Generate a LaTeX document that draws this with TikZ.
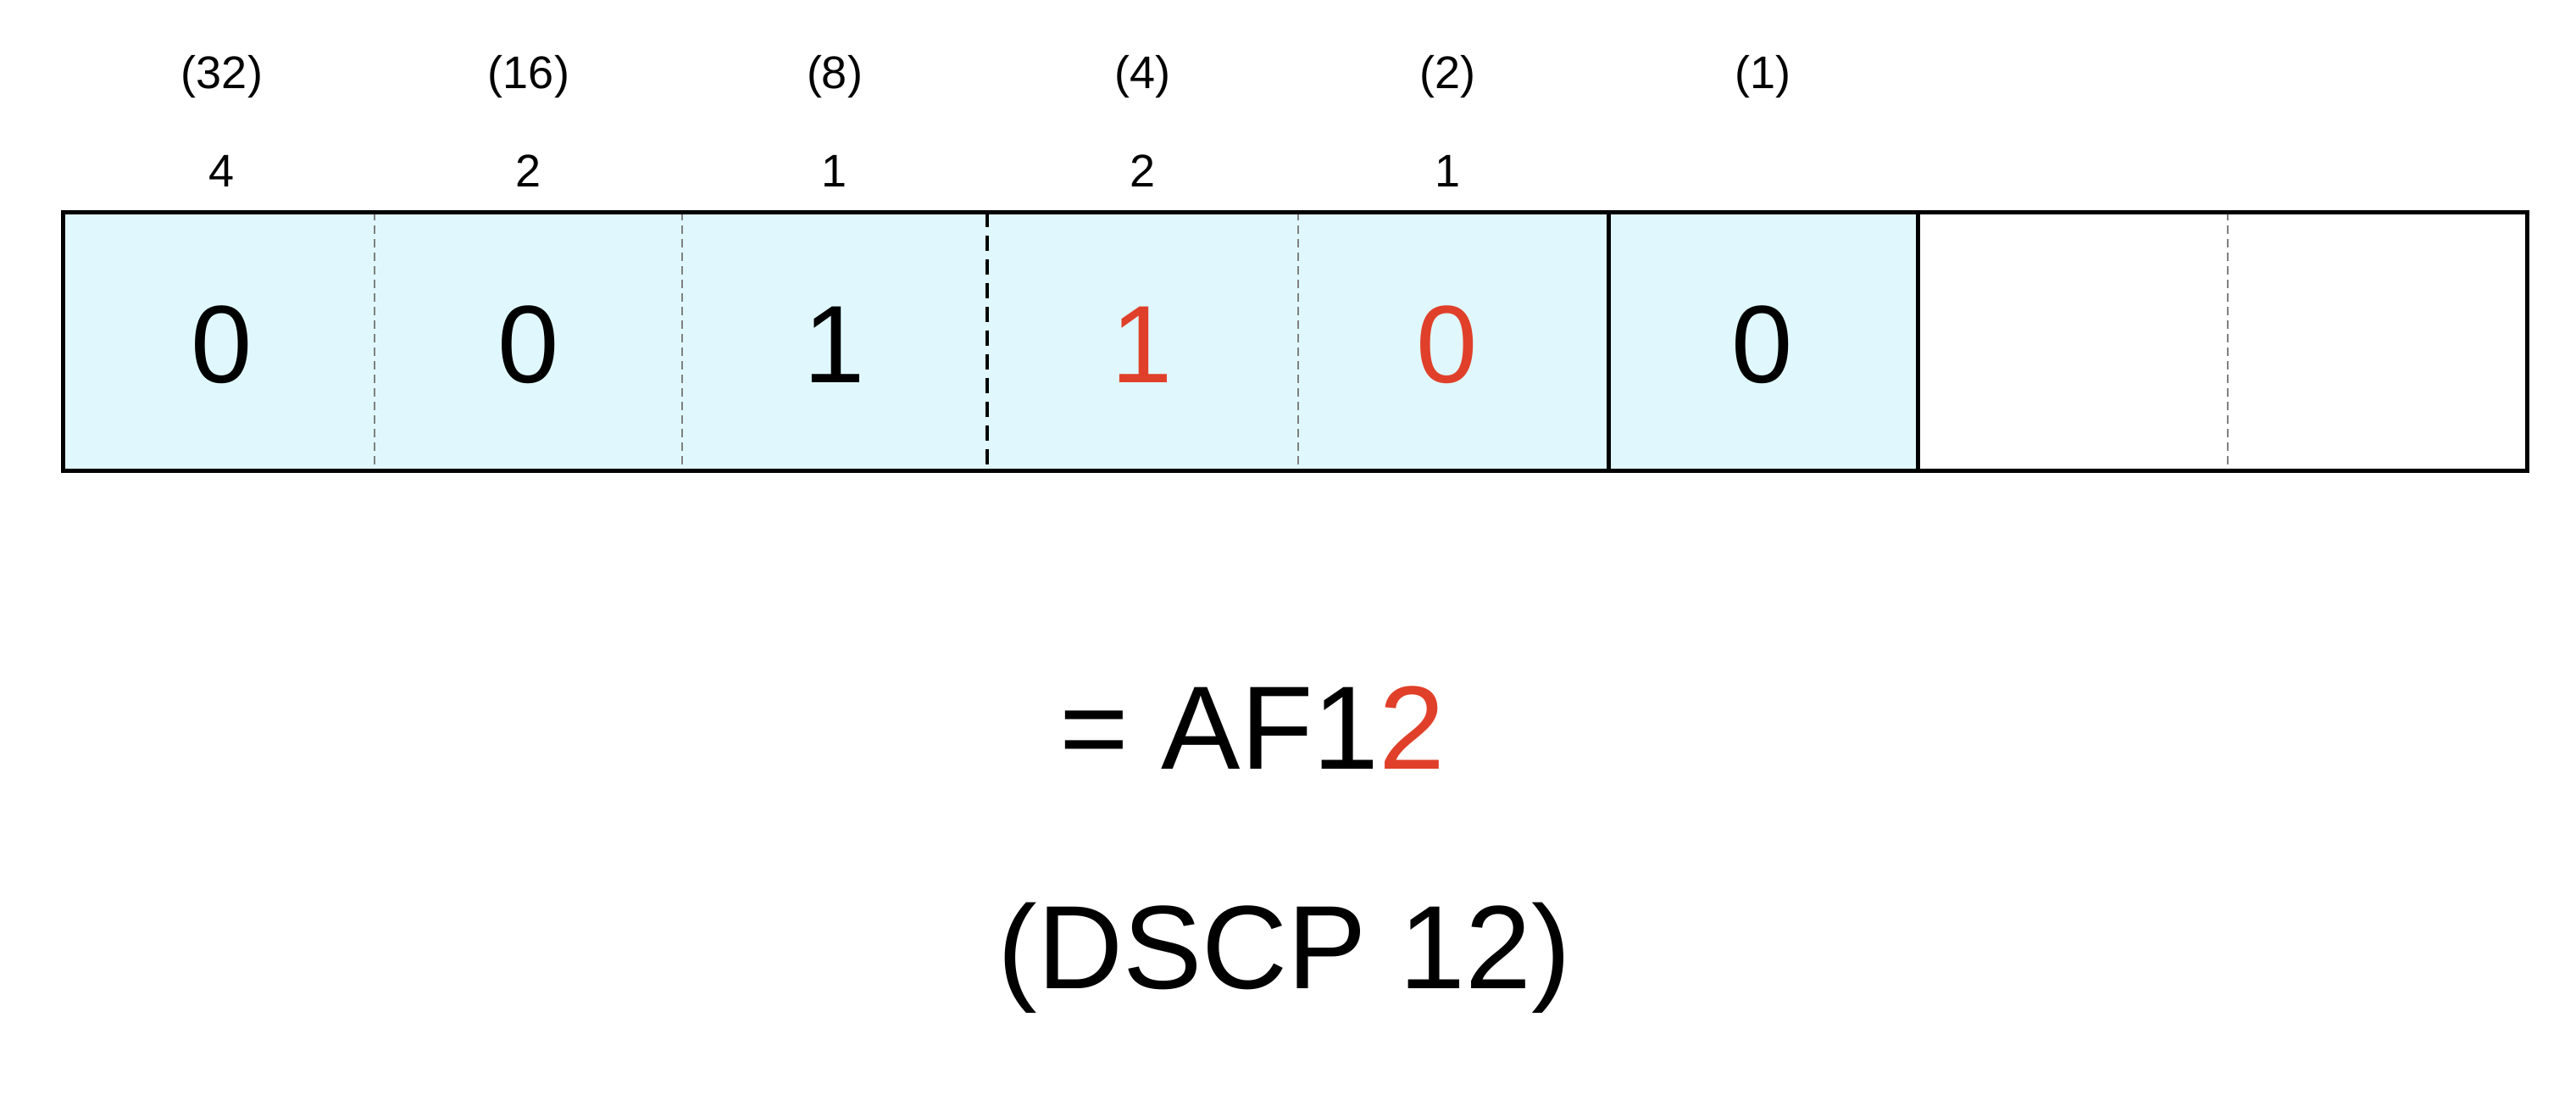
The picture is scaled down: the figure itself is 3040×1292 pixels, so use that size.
\documentclass[tikz,border=0pt]{standalone}
\usepackage{fontspec}
\setmainfont{Liberation Sans}
\definecolor{cellfill}{HTML}{E0F8FD}
\definecolor{redd}{HTML}{E0402A}
\begin{document}
\begin{tikzpicture}[x=1pt,y=-1pt,
  lbl/.style={font=\fontsize{54}{58}\selectfont},
  big/.style={font=\fontsize{130}{140}\selectfont},
  bigger/.style={font=\fontsize{140}{150}\selectfont},
  thin/.style={gray,dashed,line width=1.5pt,dash pattern=on 10pt off 6pt},
  thick/.style={black,line width=5pt}]
\fill[white] (0,0) rectangle (3040,1292);
\fill[cellfill] (74,250) rectangle (2263,555);
\draw[thin] (442,250)--(442,555);
\draw[thin] (805,250)--(805,555);
\draw[thin] (1532,250)--(1532,555);
\draw[thin] (2629,250)--(2629,555);
\draw[black,line width=4pt,dash pattern=on 18pt off 10pt] (1165,250)--(1165,555);
\draw[thick] (1898,250)--(1898,555);
\draw[thick] (2263,250)--(2263,555);
\draw[thick] (74,250) rectangle (2982,555);
\foreach \x/\a/\b/\d/\c [count=\i] in {262/(32)/4/0/black,624/(16)/2/0/black,985/(8)/1/1/black,1348/(4)/2/1/redd,1708/(2)/1/0/redd}{
  \node[lbl] (w\i) at (\x,91) {\a};
  \node[lbl] (v\i) at (\x,202) {\b};
  \node[big,text=\c] (d\i) at (\x,407) {\d};
}
\node[lbl] (w6) at (2080,91) {(1)};
\node[big] (d6) at (2080,407) {0};
\node[bigger] (af) at (1478,859) {= AF1\textcolor{redd}{2}};
\node[bigger] (dscp) at (1516,1130) {(DSCP 12)};
\end{tikzpicture}
\end{document}
